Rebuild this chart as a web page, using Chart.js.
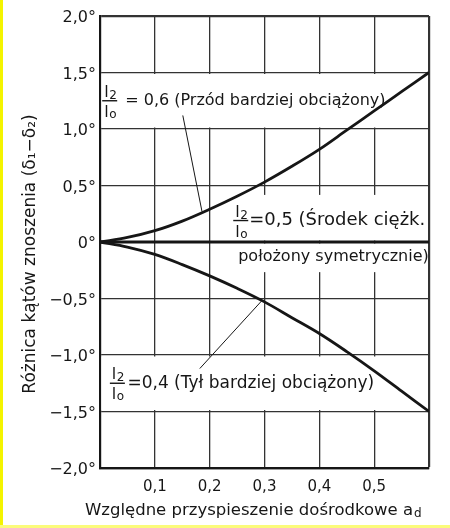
<!DOCTYPE html>
<html>
<head>
<meta charset="utf-8">
<script src="https://cdn.jsdelivr.net/npm/chart.js@4/dist/chart.umd.min.js"></script>
<style>
  html, body { margin: 0; padding: 0; background: #fff; }
  body { width: 450px; height: 528px; position: relative; overflow: hidden; }
  #chart { position: absolute; left: 0; top: 0; }
  .edge-left { position: absolute; left: 0; top: 0; width: 3px; height: 528px; background: #f4f400; }
  .edge-bottom { position: absolute; left: 0; bottom: 0; width: 450px; height: 3px; background: #fbfb7a; }
</style>
</head>
<body>
<canvas id="chart" width="450" height="528"></canvas>
<div class="edge-left"></div>
<div class="edge-bottom"></div>
<script>
// relative centripetal acceleration a_d
const accel = [0, 0.05, 0.1, 0.15, 0.2, 0.25, 0.3, 0.35, 0.4, 0.45, 0.5, 0.55, 0.6];
// drift angle difference (deg) for l2/l0 = 0.6, 0.5, 0.4
const frontHeavy = [0, 0.04, 0.1, 0.185, 0.29, 0.405, 0.53, 0.67, 0.82, 0.99, 1.16, 1.33, 1.5];
const symmetric  = [0, 0, 0, 0, 0, 0, 0, 0, 0, 0, 0, 0, 0];
const rearHeavy  = [0, -0.045, -0.11, -0.2, -0.3, -0.41, -0.53, -0.67, -0.81, -0.97, -1.14, -1.32, -1.5];

// leader lines from the labels to the curves
const frontPointerX = [0.151, 0.186];
const frontPointerY = [1.12, 0.27];
const rearPointerX  = [0.182, 0.295];
const rearPointerY  = [-1.12, -0.52];

const xTickValues = [0.1, 0.2, 0.3, 0.4, 0.5];

const INK = "#161616";
const FONT = "'DejaVu Sans', sans-serif";

function pts(xs, ys) {
  return xs.map((v, i) => ({ x: v, y: ys[i] }));
}

function fmtDeg(v) {
  if (Math.abs(v) < 1e-9) return "0°";
  const s = Math.abs(v).toFixed(1).replace(".", ",") + "°";
  return v < 0 ? "−" + s : s;
}

// label layout (data units)
const blanks = [
  [0, 0.6, 1.0, 1.5],
  [0.24, 0.6, 0, 0.43],
  [0.24, 0.6, -0.28, 0],
  [0, 0.6, -1.5, -1.0]
];
const notes = [
  { frac: true, fx: 0.004, tx: 0.046, y: 1.25, size: 16, text: "= 0,6 (Przód bardziej obciążony)" },
  { frac: true, fx: 0.243, tx: 0.272, y: 0.19, size: 18, text: "=0,5 (Środek ciężk." },
  { frac: false, tx: 0.252, y: -0.135, size: 16, text: "położony symetrycznie)" },
  { frac: true, fx: 0.018, tx: 0.05, y: -1.25, size: 17, text: "=0,4 (Tył bardziej obciążony)" }
];

function drawFrac(ctx, left, mid) {
  ctx.textAlign = "left";
  ctx.textBaseline = "alphabetic";
  ctx.font = "16px " + FONT;
  ctx.fillText("l", left + 2, mid - 4);
  ctx.fillText("l", left + 2, mid + 16);
  ctx.font = "12px " + FONT;
  ctx.fillText("2", left + 7, mid - 2);
  ctx.fillText("o", left + 7, mid + 17);
  ctx.fillRect(left, mid - 0.7, 15, 1.4);
}

const annotate = {
  id: "annotate",
  beforeDatasetsDraw(chart) {
    const { ctx, scales: { x, y } } = chart;
    ctx.save();
    ctx.fillStyle = "#fff";
    blanks.forEach(b => {
      const l = x.getPixelForValue(b[0]) + 1.5;
      const r = x.getPixelForValue(b[1]) - 1.5;
      const t = y.getPixelForValue(b[3]) + 1.5;
      const btm = y.getPixelForValue(b[2]) - 1.5;
      ctx.fillRect(l, t, r - l, btm - t);
    });
    ctx.fillStyle = INK;
    notes.forEach(n => {
      const py = y.getPixelForValue(n.y);
      if (n.frac) drawFrac(ctx, x.getPixelForValue(n.fx), py);
      ctx.font = n.size + "px " + FONT;
      ctx.textAlign = "left";
      ctx.textBaseline = "middle";
      ctx.fillText(n.text, x.getPixelForValue(n.tx), py);
    });
    ctx.restore();
  },
  afterDraw(chart) {
    const { ctx, chartArea } = chart;
    ctx.save();
    ctx.fillStyle = INK;
    // y title
    ctx.translate(31, (chartArea.top + chartArea.bottom) / 2 + 12);
    ctx.rotate(-Math.PI / 2);
    ctx.font = "17px " + FONT;
    ctx.textAlign = "center";
    ctx.textBaseline = "middle";
    ctx.fillText("Różnica kątów znoszenia (δ₁−δ₂)", 0, 0);
    ctx.restore();

    // x title with subscript
    ctx.save();
    ctx.fillStyle = INK;
    ctx.font = "16.5px " + FONT;
    ctx.textBaseline = "alphabetic";
    ctx.textAlign = "left";
    const main = "Względne przyspieszenie dośrodkowe a";
    const x0 = 85, base = 515;
    ctx.fillText(main, x0, base);
    const w = ctx.measureText(main).width;
    ctx.font = "12px " + FONT;
    ctx.fillText("d", x0 + w + 1, base + 2);
    ctx.restore();
  }
};

const curveStyle = {
  borderColor: INK,
  borderWidth: 2.8,
  pointRadius: 0,
  tension: 0.35,
  fill: false
};
const pointerStyle = {
  borderColor: INK,
  borderWidth: 1,
  pointRadius: 0,
  tension: 0,
  fill: false
};

new Chart(document.getElementById("chart").getContext("2d"), {
  type: "line",
  data: {
    datasets: [
      { label: "l2/l0 = 0,6", data: pts(accel, frontHeavy), ...curveStyle },
      { label: "l2/l0 = 0,5", data: pts(accel, symmetric), ...curveStyle },
      { label: "l2/l0 = 0,4", data: pts(accel, rearHeavy), ...curveStyle },
      { label: "p1", data: pts(frontPointerX, frontPointerY), ...pointerStyle },
      { label: "p2", data: pts(rearPointerX, rearPointerY), ...pointerStyle }
    ]
  },
  options: {
    responsive: false,
    animation: false,
    layout: { padding: { left: 0, top: 16, right: 21, bottom: 0 } },
    plugins: {
      legend: { display: false },
      tooltip: { enabled: false },
      title: { display: false }
    },
    scales: {
      x: {
        type: "linear",
        min: 0,
        max: 0.6,
        afterFit(scale) { scale.height = 60; },
        afterBuildTicks(scale) {
          scale.ticks = [0].concat(xTickValues, [0.6]).map(v => ({ value: v }));
        },
        ticks: {
          autoSkip: false,
          maxRotation: 0,
          padding: 10,
          color: INK,
          font: { family: FONT, size: 15 },
          callback: v => (xTickValues.some(t => Math.abs(t - v) < 1e-6) ? v.toFixed(1).replace(".", ",") : "")
        },
        grid: {
          color: "#333",
          lineWidth: c => (c.tick && Math.abs(c.tick.value - 0.6) < 1e-6 ? 2.2 : 1.3),
          drawTicks: false
        },
        border: { display: true, color: INK, width: 2.2 }
      },
      y: {
        type: "linear",
        min: -2,
        max: 2,
        afterFit(scale) { scale.width = 100; },
        ticks: {
          stepSize: 0.5,
          padding: 4,
          labelOffset: 2,
          color: INK,
          font: { family: FONT, size: 16 },
          callback: v => fmtDeg(v)
        },
        grid: {
          color: "#333",
          lineWidth: c => (c.tick && (Math.abs(c.tick.value - 2) < 1e-6 || Math.abs(c.tick.value + 2) < 1e-6) ? 2.2 : 1.3),
          drawTicks: false
        },
        border: { display: true, color: INK, width: 2.2 }
      }
    }
  },
  plugins: [annotate]
});
</script>
</body>
</html>
